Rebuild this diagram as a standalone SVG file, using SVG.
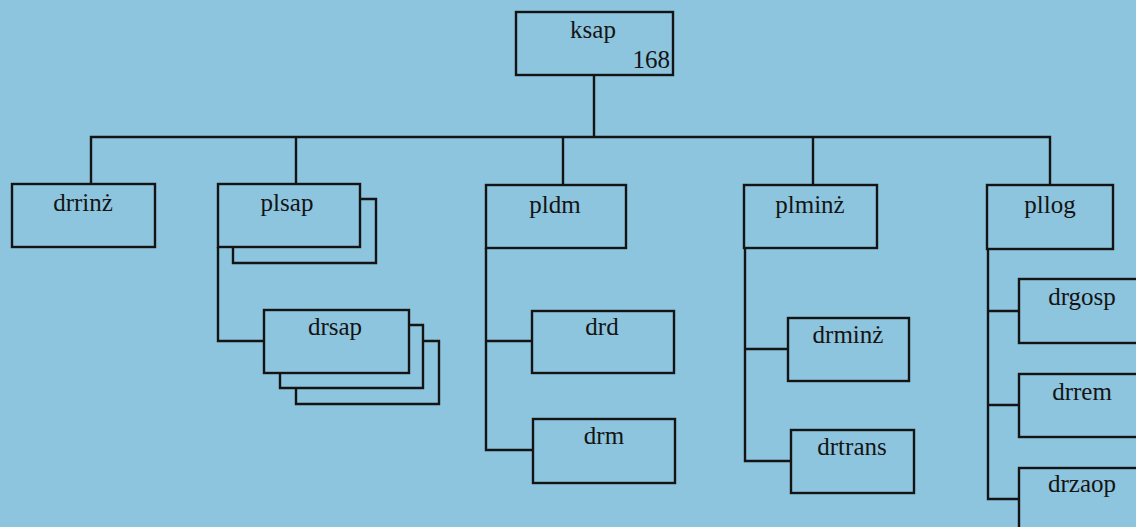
<svg xmlns="http://www.w3.org/2000/svg" width="1136" height="527" viewBox="0 0 1136 527">
<style>
.box{fill:none;stroke:#141414;stroke-width:2.4}
.ln{fill:none;stroke:#141414;stroke-width:2.4}
text{font-family:"Liberation Serif","Times New Roman","DejaVu Serif",serif;font-size:25px;fill:#141414;text-anchor:middle}
</style>
<rect x="0" y="0" width="1136" height="527" fill="#8dc5de"/>
<g id="connectors">
<path class="ln" d="M594,75 V137 M91,184 V137 H1050 V185 M296,137 V184 M563,137 V185 M813,137 V185"/>
<path class="ln" d="M218,247 V341 H264"/>
<path class="ln" d="M486,248 V450 H533 M486,341 H532"/>
<path class="ln" d="M745,248 V461 H791 M745,349 H788"/>
<path class="ln" d="M988,249 V499 H1019 M988,311 H1019 M988,405 H1019"/>
</g>
<g id="ksap"><rect class="box" x="516" y="12" width="157" height="63"/><text x="593" y="38">ksap</text><text x="670" y="68" style="text-anchor:end">168</text></g>
<g id="drrinz"><rect class="box" x="12" y="184" width="143" height="63"/><text x="83" y="211">drrinż</text></g>
<g id="plsap"><path class="box" d="M233,247 V263 H376 V199 H360"/><rect class="box" x="218" y="184" width="142" height="63"/><text x="287" y="211">plsap</text></g>
<g id="drsap"><path class="box" d="M296,388 V404 H439 V341 H423"/><path class="box" d="M280,373 V388 H423 V325 H409"/><rect class="box" x="264" y="310" width="145" height="63"/><text x="335" y="335">drsap</text></g>
<g id="pldm"><rect class="box" x="486" y="185" width="140" height="63"/><text x="555" y="213">pldm</text></g>
<g id="drd"><rect class="box" x="532" y="311" width="142" height="62"/><text x="602" y="335">drd</text></g>
<g id="drm"><rect class="box" x="533" y="419" width="142" height="64"/><text x="604" y="444">drm</text></g>
<g id="plminz"><rect class="box" x="744" y="185" width="133" height="63"/><text x="810" y="213">plminż</text></g>
<g id="drminz"><rect class="box" x="788" y="318" width="121" height="63"/><text x="848" y="343">drminż</text></g>
<g id="drtrans"><rect class="box" x="791" y="430" width="123" height="63"/><text x="852" y="455">drtrans</text></g>
<g id="pllog"><rect class="box" x="987" y="185" width="126" height="64"/><text x="1050" y="213">pllog</text></g>
<g id="drgosp"><rect class="box" x="1019" y="279" width="130" height="64"/><text x="1082" y="305">drgosp</text></g>
<g id="drrem"><rect class="box" x="1019" y="374" width="130" height="63"/><text x="1082" y="400">drrem</text></g>
<g id="drzaop"><rect class="box" x="1019" y="468" width="130" height="70"/><text x="1082" y="492">drzaop</text></g>
</svg>
